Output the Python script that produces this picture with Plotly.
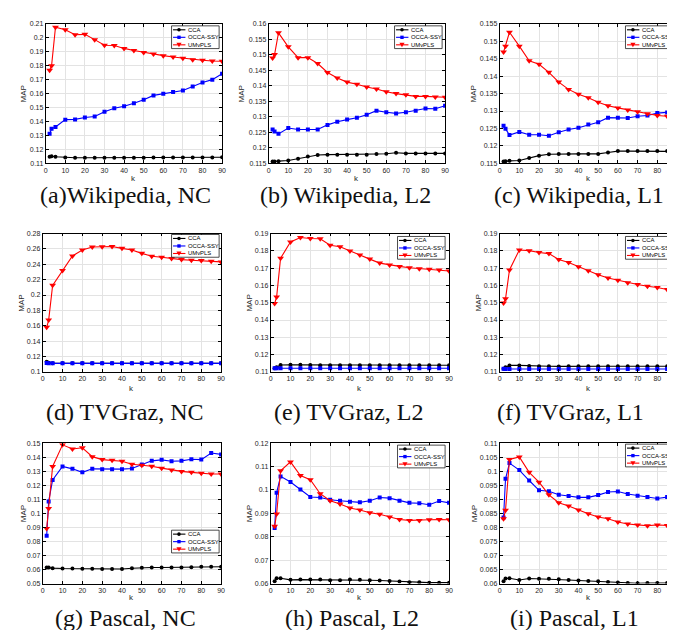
import plotly.graph_objects as go

# ---------------- data ----------------
k_values = [2, 3, 5, 10, 15, 20, 25, 30, 35, 40, 45, 50, 55, 60, 65, 70, 75, 80, 85, 90]
x_tick_vals = [0, 10, 20, 30, 40, 50, 60, 70, 80, 90]
series_names = ["CCA", "OCCA-SSY", "UMvPLS"]
captions = ["(a)Wikipedia, NC", "(b) Wikipedia, L2", "(c) Wikipedia, L1",
            "(d) TVGraz, NC", "(e) TVGraz, L2", "(f) TVGraz, L1",
            "(g) Pascal, NC", "(h) Pascal, L2", "(i) Pascal, L1"]

wiki_nc_cca = [0.1147, 0.1150, 0.1147, 0.1142, 0.1140, 0.1140, 0.1140, 0.1140, 0.1140, 0.1140,
               0.1140, 0.1140, 0.1141, 0.1142, 0.1142, 0.1142, 0.1142, 0.1142, 0.1142, 0.1143]
wiki_nc_occa = [0.1312, 0.1347, 0.1361, 0.1413, 0.1415, 0.1429, 0.1436, 0.1469, 0.1495, 0.1509,
                0.1531, 0.1556, 0.1587, 0.1599, 0.1611, 0.1622, 0.1651, 0.1679, 0.1700, 0.1742]
wiki_nc_umvpls = [0.1768, 0.1799, 0.2076, 0.2058, 0.2022, 0.2025, 0.1987, 0.1947, 0.1945, 0.1924,
                  0.1909, 0.1895, 0.1884, 0.1872, 0.1862, 0.1853, 0.1843, 0.1839, 0.1834, 0.1832]

wiki_l2_cca = [0.1156, 0.1156, 0.1157, 0.1159, 0.1165, 0.1172, 0.1177, 0.1178, 0.1178, 0.1178,
               0.1178, 0.1178, 0.1180, 0.1181, 0.1184, 0.1182, 0.1182, 0.1182, 0.1182, 0.1182]
wiki_l2_occa = [0.1259, 0.1253, 0.1245, 0.1264, 0.1259, 0.1259, 0.1259, 0.1274, 0.1284, 0.1291,
                0.1297, 0.1307, 0.1320, 0.1315, 0.1311, 0.1315, 0.1320, 0.1327, 0.1326, 0.1336]
wiki_l2_umvpls = [0.1490, 0.1501, 0.1571, 0.1526, 0.1491, 0.1491, 0.1472, 0.1443, 0.1425, 0.1412,
                  0.1405, 0.1396, 0.1390, 0.1381, 0.1375, 0.1371, 0.1366, 0.1366, 0.1364, 0.1363]

wiki_l1_cca = [0.1155, 0.1156, 0.1157, 0.1158, 0.1165, 0.1172, 0.1176, 0.1177, 0.1177, 0.1177,
               0.1177, 0.1177, 0.1181, 0.1185, 0.1185, 0.1185, 0.1185, 0.1185, 0.1185, 0.1184]
wiki_l1_occa = [0.1258, 0.1249, 0.1231, 0.1240, 0.1232, 0.1232, 0.1229, 0.1239, 0.1247, 0.1252,
                0.1261, 0.1268, 0.1281, 0.1281, 0.1280, 0.1285, 0.1287, 0.1294, 0.1296, 0.1304]
wiki_l1_umvpls = [0.1469, 0.1486, 0.1526, 0.1486, 0.1444, 0.1434, 0.1411, 0.1383, 0.1362, 0.1348,
                  0.1338, 0.1325, 0.1315, 0.1309, 0.1303, 0.1298, 0.1292, 0.1287, 0.1285, 0.1283]

tvg_nc_cca = [0.1133, 0.1120, 0.1112, 0.1112, 0.1112, 0.1112, 0.1112, 0.1112, 0.1112, 0.1112,
              0.1112, 0.1112, 0.1112, 0.1112, 0.1112, 0.1112, 0.1112, 0.1112, 0.1112, 0.1112]
tvg_nc_occa = [0.1116, 0.1113, 0.1112, 0.1112, 0.1112, 0.1112, 0.1112, 0.1112, 0.1112, 0.1112,
               0.1112, 0.1112, 0.1112, 0.1112, 0.1112, 0.1112, 0.1112, 0.1112, 0.1112, 0.1112]
tvg_nc_umvpls = [0.1580, 0.1675, 0.2126, 0.2319, 0.2508, 0.2585, 0.2624, 0.2628, 0.2632, 0.2607,
                 0.2585, 0.2542, 0.2504, 0.2491, 0.2474, 0.2461, 0.2452, 0.2448, 0.2439, 0.2431]

tvg_l2_cca = [0.1121, 0.1127, 0.1140, 0.1142, 0.1142, 0.1140, 0.1139, 0.1139, 0.1139, 0.1139,
              0.1139, 0.1139, 0.1139, 0.1139, 0.1139, 0.1139, 0.1139, 0.1139, 0.1139, 0.1139]
tvg_l2_occa = [0.1122, 0.1121, 0.1121, 0.1121, 0.1121, 0.1121, 0.1121, 0.1121, 0.1121, 0.1121,
               0.1121, 0.1121, 0.1121, 0.1121, 0.1121, 0.1121, 0.1121, 0.1121, 0.1121, 0.1121]
tvg_l2_umvpls = [0.1495, 0.1533, 0.1757, 0.1851, 0.1877, 0.1871, 0.1870, 0.1832, 0.1824, 0.1799,
                 0.1776, 0.1752, 0.1729, 0.1718, 0.1710, 0.1702, 0.1697, 0.1693, 0.1689, 0.1683]

tvg_l1_cca = [0.1119, 0.1127, 0.1138, 0.1138, 0.1135, 0.1133, 0.1133, 0.1132, 0.1133, 0.1133,
              0.1133, 0.1133, 0.1133, 0.1133, 0.1133, 0.1133, 0.1133, 0.1133, 0.1133, 0.1133]
tvg_l1_occa = [0.1118, 0.1117, 0.1117, 0.1117, 0.1117, 0.1117, 0.1117, 0.1117, 0.1117, 0.1117,
               0.1117, 0.1117, 0.1117, 0.1117, 0.1117, 0.1117, 0.1117, 0.1117, 0.1117, 0.1117]
tvg_l1_umvpls = [0.1498, 0.1523, 0.1689, 0.1805, 0.1801, 0.1790, 0.1784, 0.1750, 0.1732, 0.1708,
                 0.1685, 0.1662, 0.1643, 0.1630, 0.1616, 0.1605, 0.1595, 0.1588, 0.1576, 0.1565]

pas_nc_cca = [0.0614, 0.0614, 0.0610, 0.0607, 0.0607, 0.0605, 0.0605, 0.0603, 0.0603, 0.0604,
              0.0609, 0.0613, 0.0614, 0.0615, 0.0615, 0.0615, 0.0616, 0.0619, 0.0619, 0.0620]
pas_nc_occa = [0.0840, 0.1085, 0.1238, 0.1334, 0.1317, 0.1292, 0.1317, 0.1315, 0.1315, 0.1315,
               0.1320, 0.1348, 0.1374, 0.1381, 0.1371, 0.1374, 0.1385, 0.1383, 0.1430, 0.1420]
pas_nc_umvpls = [0.0893, 0.1034, 0.1334, 0.1488, 0.1458, 0.1467, 0.1404, 0.1383, 0.1378, 0.1371,
                 0.1350, 0.1343, 0.1336, 0.1322, 0.1308, 0.1299, 0.1292, 0.1285, 0.1280, 0.1280]

pas_l2_cca = [0.0610, 0.0623, 0.0623, 0.0616, 0.0617, 0.0617, 0.0617, 0.0614, 0.0614, 0.0617,
              0.0616, 0.0614, 0.0613, 0.0611, 0.0609, 0.0606, 0.0606, 0.0604, 0.0604, 0.0604]
pas_l2_occa = [0.0837, 0.0988, 0.1058, 0.1034, 0.1002, 0.0970, 0.0968, 0.0958, 0.0954, 0.0950,
               0.0947, 0.0954, 0.0968, 0.0965, 0.0954, 0.0945, 0.0943, 0.0937, 0.0953, 0.0945]
pas_l2_umvpls = [0.0845, 0.0897, 0.1082, 0.1120, 0.1062, 0.1044, 0.0984, 0.0954, 0.0940, 0.0923,
                 0.0914, 0.0903, 0.0896, 0.0884, 0.0874, 0.0870, 0.0870, 0.0873, 0.0874, 0.0873]

pas_l1_cca = [0.0608, 0.0618, 0.0619, 0.0613, 0.0618, 0.0617, 0.0617, 0.0615, 0.0613, 0.0611,
              0.0609, 0.0608, 0.0606, 0.0604, 0.0602, 0.0601, 0.0602, 0.0602, 0.0602, 0.0602]
pas_l1_occa = [0.0835, 0.0973, 0.1029, 0.1004, 0.0967, 0.0932, 0.0929, 0.0916, 0.0912, 0.0907,
               0.0907, 0.0915, 0.0926, 0.0928, 0.0919, 0.0913, 0.0908, 0.0903, 0.0908, 0.0901]
pas_l1_umvpls = [0.0831, 0.0861, 0.1042, 0.1051, 0.0996, 0.0961, 0.0916, 0.0888, 0.0876, 0.0862,
                 0.0849, 0.0837, 0.0831, 0.0819, 0.0812, 0.0809, 0.0806, 0.0809, 0.0807, 0.0801]

panel_series = [
    (wiki_nc_cca, wiki_nc_occa, wiki_nc_umvpls),
    (wiki_l2_cca, wiki_l2_occa, wiki_l2_umvpls),
    (wiki_l1_cca, wiki_l1_occa, wiki_l1_umvpls),
    (tvg_nc_cca, tvg_nc_occa, tvg_nc_umvpls),
    (tvg_l2_cca, tvg_l2_occa, tvg_l2_umvpls),
    (tvg_l1_cca, tvg_l1_occa, tvg_l1_umvpls),
    (pas_nc_cca, pas_nc_occa, pas_nc_umvpls),
    (pas_l2_cca, pas_l2_occa, pas_l2_umvpls),
    (pas_l1_cca, pas_l1_occa, pas_l1_umvpls),
]
y_ranges = [(0.11, 0.21), (0.115, 0.16), (0.115, 0.155),
            (0.10, 0.28), (0.11, 0.19), (0.11, 0.19),
            (0.05, 0.15), (0.06, 0.12), (0.06, 0.11)]
y_dticks = [0.01, 0.005, 0.005, 0.02, 0.01, 0.01, 0.01, 0.01, 0.005]

# ---------------- layout / style ----------------
W, H = 675, 630
# plot areas in pixels: left, right, top, bottom
panels_px = [(36, 214, 12, 153), (261, 439, 12, 153), (494, 673, 12, 153),
             (33, 213, 224, 364), (263, 443, 224, 364), (494, 673, 224, 364),
             (33, 213, 436, 578), (263, 443, 436, 578), (494, 673, 436, 578)]
ylabel_offset = [22, 27, 26, 21, 21, 21, 20, 21, 25]
legend_px = [(163, 14), (388, 14), (621, 14), (163, 225), (391, 227), (621, 227),
             (163, 524), (391, 438), (621, 437)]
caption_px = [(117, 185), (339, 185), (574, 185), (116, 404), (342, 404), (566, 404),
              (117, 613), (345, 613), (570, 613)]
klabel_y = [168, 168, 168, 381, 381, 381, 592, 592, 592]

colors = ["#000000", "#0000ff", "#ff0000"]
symbols = ["circle", "square", "triangle-down"]
msizes = [4, 4, 6]
sans = "Liberation Sans, Arial, sans-serif"
serif = "Liberation Serif, Times New Roman, serif"
tick_color = "#262626"


def px(x):
    return x / W


def py(y):
    return 1 - y / H


fig = go.Figure()
annotations = []
shapes = []

for i, series in enumerate(panel_series):
    ax = "" if i == 0 else str(i + 1)
    for s, yv in enumerate(series):
        fig.add_trace(go.Scatter(
            x=k_values, y=yv, mode="lines+markers", name=series_names[s],
            xaxis="x" + ax, yaxis="y" + ax, showlegend=False,
            line=dict(color=colors[s], width=1.1),
            marker=dict(symbol=symbols[s], size=msizes[s], color=colors[s],
                        line=dict(width=0)),
        ))
    L, R, T, B = panels_px[i]
    common = dict(showline=True, linecolor="black", linewidth=0.8, mirror="ticks",
                  ticks="inside", ticklen=3, tickwidth=0.6, tickcolor="black",
                  showgrid=True, gridcolor="#e3e3e3", gridwidth=0.6, zeroline=False,
                  tickfont=dict(family=sans, size=7, color=tick_color))
    fig.layout["xaxis" + ax] = dict(domain=[px(L), px(R)], anchor="y" + ax,
                                    range=[0, 90], tickvals=x_tick_vals, **common)
    y0, y1 = y_ranges[i]
    fig.layout["yaxis" + ax] = dict(domain=[py(B), py(T)], anchor="x" + ax,
                                    range=[y0, y1], tick0=0, dtick=y_dticks[i], **common)
    # axis labels
    annotations.append(dict(text="k", x=px((L + R) / 2), y=py(klabel_y[i]), xref="paper",
                            yref="paper", showarrow=False, xanchor="center", yanchor="middle",
                            font=dict(family=sans, size=8, color=tick_color)))
    annotations.append(dict(text="MAP", x=px(L - ylabel_offset[i]), y=py((T + B) / 2),
                            xref="paper", yref="paper", showarrow=False, textangle=-90,
                            xanchor="center", yanchor="middle",
                            font=dict(family=sans, size=8, color=tick_color)))
    # caption
    cx, cy = caption_px[i]
    annotations.append(dict(text=captions[i], x=px(cx), y=py(cy), xref="paper", yref="paper",
                            showarrow=False, xanchor="center", yanchor="middle",
                            font=dict(family=serif, size=24, color="#111111")))
    # legend box
    bx, by = legend_px[i]
    shapes.append(dict(type="rect", xref="paper", yref="paper", x0=px(bx), x1=px(bx + 48),
                       y0=py(by), y1=py(by + 23), line=dict(color="black", width=0.7),
                       fillcolor="white", layer="above"))
    for s in range(3):
        yy = by + 4 + 7.6 * s
        shapes.append(dict(type="line", xref="paper", yref="paper", x0=px(bx + 1.5),
                           x1=px(bx + 14), y0=py(yy), y1=py(yy),
                           line=dict(color=colors[s], width=1.1), layer="above"))
        mx = bx + 7.5
        if s == 0:
            shapes.append(dict(type="circle", xref="paper", yref="paper", x0=px(mx - 1.8),
                               x1=px(mx + 1.8), y0=py(yy + 1.8), y1=py(yy - 1.8),
                               fillcolor=colors[s], line=dict(width=0), layer="above"))
        elif s == 1:
            shapes.append(dict(type="rect", xref="paper", yref="paper", x0=px(mx - 1.7),
                               x1=px(mx + 1.7), y0=py(yy + 1.7), y1=py(yy - 1.7),
                               fillcolor=colors[s], line=dict(width=0), layer="above"))
        else:
            path = "M {} {} L {} {} L {} {} Z".format(px(mx - 2.6), py(yy - 2), px(mx + 2.6),
                                                      py(yy - 2), px(mx), py(yy + 2.4))
            shapes.append(dict(type="path", xref="paper", yref="paper", path=path,
                               fillcolor=colors[s], line=dict(width=0), layer="above"))
        annotations.append(dict(text=series_names[s], x=px(bx + 15), y=py(yy), xref="paper",
                                yref="paper", showarrow=False, xanchor="left",
                                yanchor="middle",
                                font=dict(family=sans, size=5.9, color="black")))

fig.update_layout(width=W, height=H, autosize=False,
                  margin=dict(l=0, r=0, t=0, b=0),
                  paper_bgcolor="white", plot_bgcolor="white",
                  annotations=annotations, shapes=shapes, showlegend=False)

fig.write_html("out.html")
